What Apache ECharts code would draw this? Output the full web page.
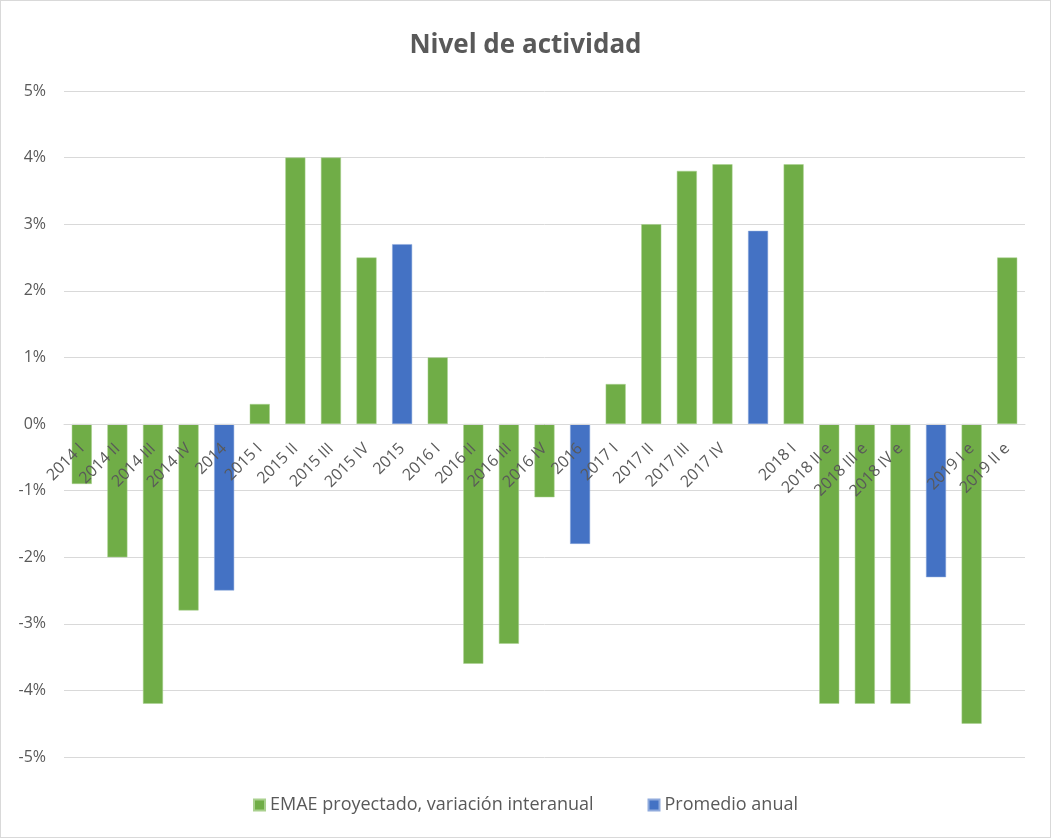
<!DOCTYPE html>
<html style="height: 100%">
<head>
 <meta charset="utf-8">
 <title>Nivel de actividad</title>
 <script src="https://cdn.jsdelivr.net/npm/echarts/dist/echarts.min.js"></script>
</head>
<body style="height: 100%; margin: 0; background: #fff">
 <div id="main" style="position: absolute; left: 0; top: 0; width: 1049px; height: 836px; border: 1px solid #d9d9d9"></div>
 <script type="text/javascript">
 // trimestres y promedios anuales (los promedios 2017 y 2018 no tienen etiqueta)
 var categories = ['2014 I', '2014 II', '2014 III', '2014 IV', '2014',
   '2015 I', '2015 II', '2015 III', '2015 IV', '2015',
   '2016 I', '2016 II', '2016 III', '2016 IV', '2016',
   '2017 I', '2017 II', '2017 III', '2017 IV', '',
   '2018 I', '2018 II e', '2018 III e', '2018 IV e', ' ',
   '2019 I e', '2019 II e'];

 // EMAE proyectado, variación interanual (%)
 var emae = [-0.9, -2.0, -4.2, -2.8, null,
   0.3, 4.0, 4.0, 2.5, null,
   1.0, -3.6, -3.3, -1.1, null,
   0.6, 3.0, 3.8, 3.9, null,
   3.9, -4.2, -4.2, -4.2, null,
   -4.5, 2.5];

 // Promedio anual (%)
 var promedio = [null, null, null, null, -2.5,
   null, null, null, null, 2.7,
   null, null, null, null, -1.8,
   null, null, null, null, 2.9,
   null, null, null, null, -2.3,
   null, null];

 var yTicks = { min: -5, max: 5, interval: 1 };

 var myChart = echarts.init(document.getElementById('main'));

 var textColor = '#595959';
 var fontFam = '"Open Sans", "Noto Sans", sans-serif';

 // el eje X va sobre la línea del 0%: se desplaza desde el borde inferior
 var gridTop = 90, gridBottom = 80, plotH = 836 - gridTop - gridBottom;
 var zeroOffset = -plotH * (0 - yTicks.min) / (yTicks.max - yTicks.min);

 var option = {
   animation: false,
   title: {
     text: 'Nivel de actividad',
     left: 'center',
     top: 27,
     textStyle: { color: textColor, fontSize: 26, fontWeight: 'bold', fontFamily: fontFam }
   },
   legend: {
     bottom: 18,
     left: 'center',
     itemWidth: 11,
     itemHeight: 11,
     itemGap: 54,
     icon: 'rect',
     textStyle: { color: textColor, fontSize: 18, fontFamily: fontFam },
     data: ['EMAE proyectado, variación interanual', 'Promedio anual']
   },
   grid: { left: 63, right: 25, top: gridTop, bottom: gridBottom },
   xAxis: {
     type: 'category',
     data: categories,
     position: 'bottom',
     offset: zeroOffset,
     z: 5,
     axisLine: { onZero: false, lineStyle: { color: '#d9d9d9' } },
     axisTick: { show: false },
     axisLabel: {
       interval: 0,
       rotate: 45,
       margin: 22,
       color: textColor,
       fontSize: 16,
       fontFamily: fontFam
     }
   },
   yAxis: {
     type: 'value',
     min: yTicks.min,
     max: yTicks.max,
     interval: yTicks.interval,
     axisLine: { show: false },
     axisTick: { show: false },
     splitLine: { lineStyle: { color: '#d9d9d9' } },
     axisLabel: {
       formatter: '{value}%',
       margin: 18,
       color: textColor,
       fontSize: 16,
       fontFamily: fontFam
     }
   },
   series: [
     {
       name: 'EMAE proyectado, variación interanual',
       type: 'bar',
       data: emae,
       barWidth: 20,
       barGap: '-100%',
       itemStyle: { color: '#70ad47', borderColor: '#a9d08e', borderWidth: 0.5 }
     },
     {
       name: 'Promedio anual',
       type: 'bar',
       data: promedio,
       barWidth: 20,
       barGap: '-100%',
       itemStyle: { color: '#4472c4', borderColor: '#8faadc', borderWidth: 0.5 }
     }
   ]
 };

 myChart.setOption(option);
 </script>
</body>
</html>
